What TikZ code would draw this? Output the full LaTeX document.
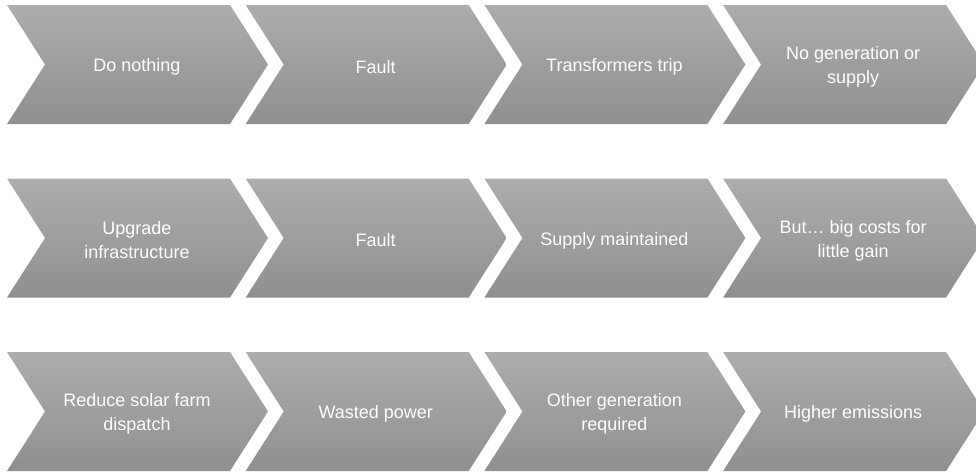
\documentclass[tikz,border=0pt]{standalone}
\usepackage{fontspec}
\setmainfont{Liberation Sans}
\definecolor{chtop}{RGB}{173,173,173}
\definecolor{chbot}{RGB}{143,143,143}
\newcommand\mychev[2]{%
  \path[chevfill] (#1,-#2) -- ++(223,0) -- ++(38,-59.5) -- ++(-38,-59.5) -- ++(-223,0) -- ++(38,59.5) -- cycle;}
\begin{document}
\begin{tikzpicture}[x=1pt,y=1pt,
  chevfill/.style={top color=chtop,bottom color=chbot,draw=none},
  lab/.style={text=white,font=\fontsize{18}{24}\selectfont,align=center,inner sep=0pt}]
\useasboundingbox (0,0) rectangle (976,-471);
\clip (0,0) rectangle (976,-471);
\foreach \y in {5,178.5,352}{
  \foreach \c in {0,1,2,3}{
    \pgfmathsetmacro\xx{7+238.7*\c}
    \mychev{\xx}{\y}
  }
}
\node[lab] (a1) at (137,-67) {Do nothing};
\node[lab] (a2) at (375.7,-67) {Fault};
\node[lab] (a3) at (614.4,-67) {Transformers trip};
\node[lab] (a4) at (853.1,-67) {No generation or\\supply};
\node[lab] (b1) at (137,-240.5) {Upgrade\\infrastructure};
\node[lab] (b2) at (375.7,-240.5) {Fault};
\node[lab] (b3) at (614.4,-240.5) {Supply maintained};
\node[lab] (b4) at (853.1,-240.5) {But\ldots\ big costs for\\little gain};
\node[lab] (c1) at (137,-414) {Reduce solar farm\\dispatch};
\node[lab] (c2) at (375.7,-414) {Wasted power};
\node[lab] (c3) at (614.4,-414) {Other generation\\required};
\node[lab] (c4) at (853.1,-414) {Higher emissions};
\end{tikzpicture}
\end{document}
